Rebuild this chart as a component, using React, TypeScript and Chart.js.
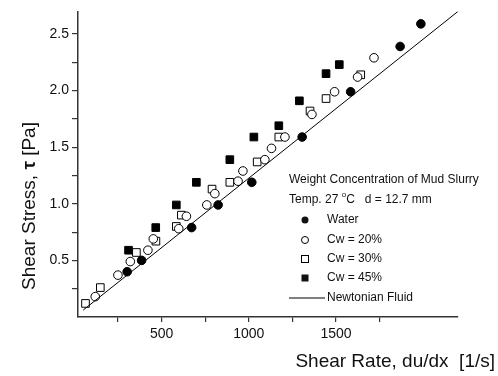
import React, { useEffect, useRef } from 'react';
import { Chart, registerables } from 'chart.js';

Chart.register(...registerables);

// ---- data ----
const waterX = [302, 385, 672, 824, 1017, 1306, 1584, 1868, 1987];
const waterY = [0.40, 0.50, 0.79, 0.99, 1.19, 1.59, 1.99, 2.39, 2.59];

const cw20X = [119, 249, 320, 421, 452, 598, 642, 759, 805, 938, 966, 1092, 1130, 1207, 1362, 1492, 1624, 1718];
const cw20Y = [0.18, 0.37, 0.49, 0.59, 0.69, 0.78, 0.89, 0.99, 1.09, 1.20, 1.29, 1.39, 1.49, 1.59, 1.79, 1.99, 2.12, 2.29];

const cw30X = [63, 148, 355, 467, 584, 613, 789, 891, 1048, 1172, 1351, 1443, 1642];
const cw30Y = [0.12, 0.26, 0.57, 0.67, 0.80, 0.90, 1.13, 1.19, 1.37, 1.59, 1.82, 1.93, 2.14];

const cw45X = [310, 466, 584, 699, 891, 1029, 1172, 1290, 1443, 1519];
const cw45Y = [0.59, 0.79, 0.99, 1.19, 1.39, 1.59, 1.69, 1.91, 2.15, 2.23];

const newtonX = [50, 2200];
const newtonY = [0.061, 2.70];

const seriesLabels = ['Water', 'Cw = 20%', 'Cw = 30%', 'Cw = 45%', 'Newtonian Fluid'];
const legendTitle1 = 'Weight Concentration of Mud Slurry';
const legendTitle2a = 'Temp. 27 ';
const legendTitle2sup = 'o';
const legendTitle2b = 'C   d = 12.7 mm';
const xTitle = 'Shear Rate, du/dx  [1/s]';
const yTitleA = 'Shear Stress, ';
const yTitleB = '\u03C4';
const yTitleC = ' [Pa]';

const xMajor = [500, 1000, 1500, 2000];
const yMajor = [0.5, 1.0, 1.5, 2.0, 2.5];

const FONT = '"Liberation Sans", Arial, Helvetica, sans-serif';

const pts = (xs: number[], ys: number[]) => xs.map((x, i) => ({ x, y: ys[i] }));

const near = (a: number, b: number) => Math.abs(a - b) < 1e-6;

const overlayPlugin = {
  id: 'overlay',
  afterDraw(chart: any) {
    const ctx = chart.ctx as CanvasRenderingContext2D;
    const { left, bottom } = chart.chartArea;
    ctx.save();
    ctx.fillStyle = '#111';
    ctx.strokeStyle = '#000';

    // x title
    ctx.font = `19px ${FONT}`;
    ctx.textAlign = 'right';
    ctx.textBaseline = 'alphabetic';
    ctx.fillText(xTitle, 495, bottom + 50);

    // y title (rotated)
    ctx.save();
    ctx.translate(30, 206);
    ctx.rotate(-Math.PI / 2);
    ctx.textBaseline = 'middle';
    ctx.textAlign = 'left';
    ctx.font = `19px ${FONT}`;
    const wA = ctx.measureText(yTitleA).width;
    const wC = ctx.measureText(yTitleC).width;
    ctx.font = `bold 19px ${FONT}`;
    const wB = ctx.measureText(yTitleB).width;
    let cx = -(wA + wB + wC) / 2;
    ctx.font = `19px ${FONT}`;
    ctx.fillText(yTitleA, cx, 0);
    cx += wA;
    ctx.font = `bold 19px ${FONT}`;
    ctx.fillText(yTitleB, cx, 0);
    cx += wB;
    ctx.font = `19px ${FONT}`;
    ctx.fillText(yTitleC, cx, 0);
    ctx.restore();

    // legend
    const lx = left + 211;
    ctx.textAlign = 'left';
    ctx.textBaseline = 'middle';
    ctx.font = `12px ${FONT}`;
    ctx.fillText(legendTitle1, lx, 180);
    let tx = lx;
    ctx.fillText(legendTitle2a, tx, 200);
    tx += ctx.measureText(legendTitle2a).width;
    ctx.font = `8px ${FONT}`;
    ctx.fillText(legendTitle2sup, tx, 195);
    tx += ctx.measureText(legendTitle2sup).width;
    ctx.font = `12px ${FONT}`;
    ctx.fillText(legendTitle2b, tx, 200);

    const mx = lx + 16;
    const textX = lx + 38;
    const rows = [220, 240, 259, 278, 298];
    ctx.lineWidth = 1;
    // water
    ctx.beginPath();
    ctx.arc(mx, rows[0], 3.5, 0, Math.PI * 2);
    ctx.fill();
    // 20%
    ctx.beginPath();
    ctx.arc(mx, rows[1], 3.5, 0, Math.PI * 2);
    ctx.stroke();
    // 30%
    ctx.strokeRect(mx - 3.5, rows[2] - 3.5, 7, 7);
    // 45%
    ctx.fillRect(mx - 3.5, rows[3] - 3.5, 7, 7);
    // newtonian
    ctx.beginPath();
    ctx.moveTo(lx, rows[4]);
    ctx.lineTo(lx + 36, rows[4]);
    ctx.stroke();
    for (let i = 0; i < seriesLabels.length; i++) {
      ctx.fillText(seriesLabels[i], textX, rows[i]);
    }
    ctx.restore();
  },
};

export default function App() {
  const ref = useRef<HTMLCanvasElement>(null);

  useEffect(() => {
    if (!ref.current) return;
    const circleR = 4.3;
    const rectR = 5.4;
    const chart = new Chart(ref.current, {
      type: 'scatter',
      data: {
        datasets: [
          {
            label: seriesLabels[4],
            data: pts(newtonX, newtonY),
            showLine: true,
            borderColor: '#000',
            borderWidth: 1,
            pointRadius: 0,
            fill: false,
          },
          {
            label: seriesLabels[0],
            data: pts(waterX, waterY),
            pointStyle: 'circle',
            pointRadius: circleR,
            backgroundColor: '#000',
            borderColor: '#000',
            borderWidth: 1,
          },
          {
            label: seriesLabels[1],
            data: pts(cw20X, cw20Y),
            pointStyle: 'circle',
            pointRadius: circleR,
            backgroundColor: '#fff',
            borderColor: '#000',
            borderWidth: 1,
          },
          {
            label: seriesLabels[2],
            data: pts(cw30X, cw30Y),
            pointStyle: 'rect',
            pointRadius: rectR,
            backgroundColor: '#fff',
            borderColor: '#000',
            borderWidth: 1,
          },
          {
            label: seriesLabels[3],
            data: pts(cw45X, cw45Y),
            pointStyle: 'rect',
            pointRadius: rectR,
            backgroundColor: '#000',
            borderColor: '#000',
            borderWidth: 1,
          },
        ],
      },
      options: {
        responsive: false,
        animation: false,
        events: [],
        layout: { padding: { left: 0, right: 40, top: 7, bottom: 0 } },
        plugins: { legend: { display: false }, tooltip: { enabled: false } },
        scales: {
          x: {
            type: 'linear',
            min: 20,
            max: 2200,
            afterBuildTicks: (s: any) => {
              s.ticks = s.ticks.filter((t: any) => near(t.value / 250, Math.round(t.value / 250)) && t.value > 0);
            },
            afterFit: (s: any) => {
              s.height = 59;
            },
            grid: { drawOnChartArea: false, tickLength: 5, color: '#333', lineWidth: 1.2 },
            border: { color: '#333', width: 1.5 },
            ticks: {
              stepSize: 250,
              autoSkip: false,
              maxRotation: 0,
              padding: 4,
              color: '#111',
              font: { family: FONT, size: 14 },
              callback: (v: any) => (xMajor.some((m) => near(m, Number(v))) ? String(v) : ''),
            },
          },
          y: {
            type: 'linear',
            min: 0,
            max: 2.7,
            afterBuildTicks: (s: any) => {
              s.ticks = s.ticks.filter((t: any) => near(t.value * 4, Math.round(t.value * 4)) && t.value > 0);
            },
            afterFit: (s: any) => {
              s.width = 78;
            },
            grid: { drawOnChartArea: false, tickLength: 6, color: '#333', lineWidth: 1.2 },
            border: { color: '#333', width: 1.5 },
            ticks: {
              stepSize: 0.25,
              autoSkip: false,
              padding: 3,
              color: '#111',
              font: { family: FONT, size: 14 },
              callback: (v: any) => (yMajor.some((m) => near(m, Number(v))) ? Number(v).toFixed(1) : ''),
            },
          },
        },
      },
      plugins: [overlayPlugin],
    } as any);
    return () => chart.destroy();
  }, []);

  return (
    <div style={{ position: 'fixed', left: 0, top: 0, width: 498, height: 376, background: '#fff' }}>
      <canvas ref={ref} width={498} height={376} style={{ display: 'block', width: 498, height: 376 }} />
    </div>
  );
}
